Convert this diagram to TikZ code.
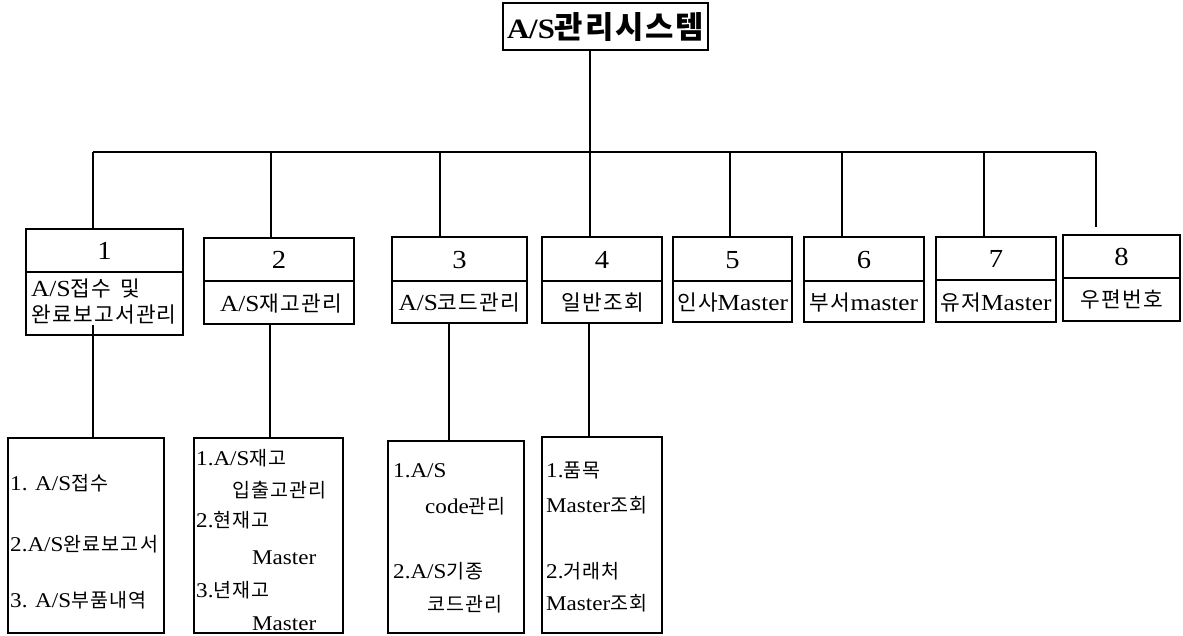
\documentclass[tikz,border=0pt]{standalone}
\usepackage{fontspec}
\setmainfont[FakeStretch=1.1]{Liberation Serif}
\newfontfamily\kr[Scale=0.93,LetterSpace=6]{Noto Sans CJK KR}
\newfontfamily\krt[Scale=1.1,LetterSpace=6]{Noto Sans CJK KR}
\newcommand\K[1]{{\kr #1}}
\newcommand\KT[1]{{\krt #1}}
\usetikzlibrary{calc}
\begin{document}
\begin{tikzpicture}[x=1pt,y=-1pt,
  box/.style={draw, line width=1.1pt, inner sep=0pt, outer sep=0pt, anchor=north west},
  titlebox/.style={draw, line width=1.6pt, minimum width=205pt, minimum height=47pt, inner sep=0pt, font=\fontsize{28}{28}\selectfont\bfseries},
  num/.style={anchor=base, inner sep=0pt, font=\fontsize{26}{26}\selectfont},
  lab/.style={anchor=base, inner sep=0pt, font=\fontsize{23}{27}\selectfont},
  sub/.style={anchor=base west, inner sep=0pt, font=\fontsize{21}{21}\selectfont},
  link/.style={line width=1.1pt}]
\useasboundingbox (0,0) rectangle (1183,635);

% title
\node[titlebox] (t) at (605.5,26.5) {A/S\KT{관리시스템}};

% level 1 boxes
\node[box, minimum width=157pt, minimum height=106pt] (b1) at (26,229) {};
\node[box, minimum width=150pt, minimum height=86pt] (b2) at (204,238) {};
\node[box, minimum width=135pt, minimum height=86pt] (b3) at (392,237) {};
\node[box, minimum width=120pt, minimum height=86pt] (b4) at (542,237) {};
\node[box, minimum width=119pt, minimum height=85pt] (b5) at (673,237) {};
\node[box, minimum width=120pt, minimum height=85pt] (b6) at (804,237) {};
\node[box, minimum width=120pt, minimum height=85pt] (b7) at (936,237) {};
\node[box, minimum width=117pt, minimum height=86pt] (b8) at (1063,235) {};

% dividers
\draw[link] ($(b1.north west)+(0,43)$) -- ($(b1.north east)+(0,43)$);
\draw[link] ($(b2.north west)+(0,43)$) -- ($(b2.north east)+(0,43)$);
\draw[link] ($(b3.north west)+(0,44)$) -- ($(b3.north east)+(0,44)$);
\draw[link] ($(b4.north west)+(0,44)$) -- ($(b4.north east)+(0,44)$);
\draw[link] ($(b5.north west)+(0,44)$) -- ($(b5.north east)+(0,44)$);
\draw[link] ($(b6.north west)+(0,44)$) -- ($(b6.north east)+(0,44)$);
\draw[link] ($(b7.north west)+(0,43)$) -- ($(b7.north east)+(0,43)$);
\draw[link] ($(b8.north west)+(0,43)$) -- ($(b8.north east)+(0,43)$);

% numbers
\node[num] (n1) at (104.5,259.5) {1};
\node[num] (n2) at (279,268.5) {2};
\node[num] (n3) at (459.5,268) {3};
\node[num] (n4) at (602,268) {4};
\node[num] (n5) at (732.5,268) {5};
\node[num] (n6) at (864,268) {6};
\node[num] (n7) at (996,267.5) {7};
\node[num] (n8) at (1121.5,265.5) {8};

% labels
\node[lab, anchor=base west] (l1a) at (31,296) {A/S\K{접수}\hspace{9pt}\K{및}};
\node[lab, anchor=base west] (l1b) at (31,322) {\K{완료보고서관리}};
\node[lab] (l2) at (281,311) {A/S\K{재고관리}};
\node[lab] (l3) at (459.5,310) {A/S\K{코드관리}};
\node[lab] (l4) at (603,310) {\K{일반조회}};
\node[lab] (l5) at (732.5,310) {\K{인사}Master};
\node[lab] (l6) at (864,310) {\K{부서}master};
\node[lab] (l7) at (996,310) {\K{유저}Master};
\node[lab] (l8) at (1121.5,307) {\K{우편번호}};

% level 2 boxes
\node[box, minimum width=156pt, minimum height=195pt] (c1) at (8,438) {};
\node[box, minimum width=149pt, minimum height=195pt] (c2) at (194,438) {};
\node[box, minimum width=136pt, minimum height=192pt] (c3) at (388,441) {};
\node[box, minimum width=120pt, minimum height=196pt] (c4) at (542,437) {};

% level 2 texts
\node[sub] (s11) at (10,490) {1. A/S\K{접수}};
\node[sub] (s12) at (10,551) {2.A/S\K{완료보고서}};
\node[sub] (s13) at (10,607) {3. A/S\K{부품내역}};

\node[sub] (s21) at (196,465) {1.A/S\K{재고}};
\node[sub] (s22) at (232,497) {\K{입출고관리}};
\node[sub] (s23) at (196,527) {2.\K{현재고}};
\node[sub] (s24) at (252,564) {Master};
\node[sub] (s25) at (196,597) {3.\K{년재고}};
\node[sub] (s26) at (252,630) {Master};

\node[sub] (s31) at (393,477) {1.A/S};
\node[sub] (s32) at (425,513) {code\K{관리}};
\node[sub] (s33) at (393,578) {2.A/S\K{기종}};
\node[sub] (s34) at (427,611) {\K{코드관리}};

\node[sub] (s41) at (546,477) {1.\K{품목}};
\node[sub] (s42) at (546,512) {Master\K{조회}};
\node[sub] (s43) at (546,578) {2.\K{거래처}};
\node[sub] (s44) at (546,610) {Master\K{조회}};

% bus and drops
\coordinate (d1) at (93,152);
\coordinate (d2) at (271,152);
\coordinate (d3) at (440,152);
\coordinate (d4) at (590,152);
\coordinate (d5) at (730,152);
\coordinate (d6) at (842,152);
\coordinate (d7) at (984,152);
\coordinate (d8) at (1096,152);
\coordinate (e8) at (1096,227);

\draw[link] (d1) -- (d8);
\draw[link] (t.south -| d4) -- (d4);
\draw[link] (d1) -- (d1 |- b1.north);
\draw[link] (d2) -- (d2 |- b2.north);
\draw[link] (d3) -- (d3 |- b3.north);
\draw[link] (d4) -- (d4 |- b4.north);
\draw[link] (d5) -- (d5 |- b5.north);
\draw[link] (d6) -- (d6 |- b6.north);
\draw[link] (d7) -- (d7 |- b7.north);
\draw[link] (d8) -- (e8);

% level 2 links
\coordinate (k1) at (93,325);
\coordinate (k2) at (270,0);
\coordinate (k3) at (449,0);
\coordinate (k4) at (589,0);
\draw[link] (k1) -- (k1 |- c1.north);
\draw[link] (b2.south -| k2) -- (c2.north -| k2);
\draw[link] (b3.south -| k3) -- (c3.north -| k3);
\draw[link] (b4.south -| k4) -- (c4.north -| k4);
\end{tikzpicture}
\end{document}
